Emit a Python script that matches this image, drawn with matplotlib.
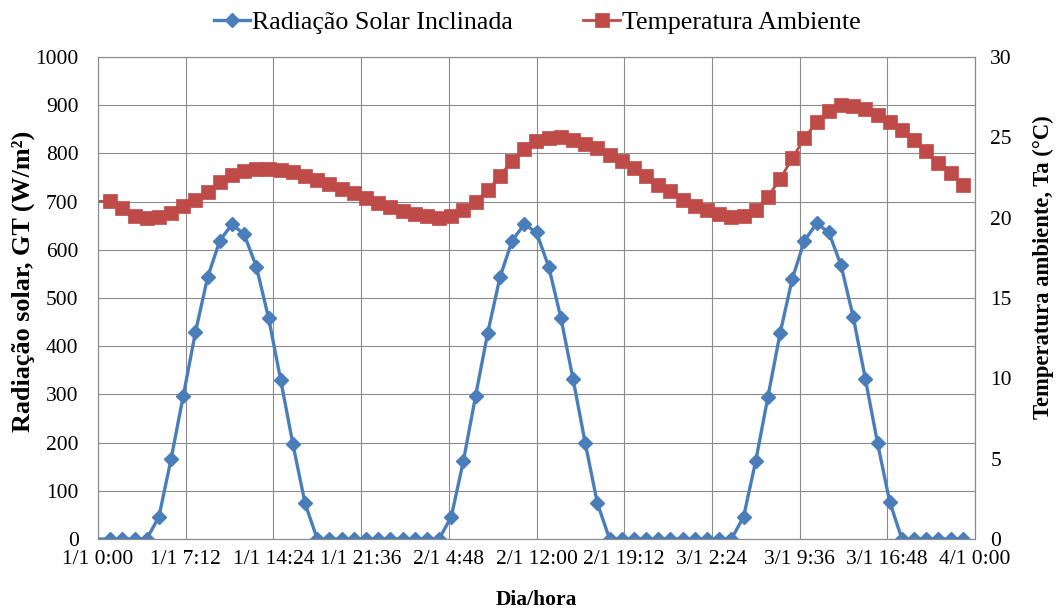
import matplotlib.pyplot as plt

# Hourly series, 1/1 0:00 to 3/1 23:00
horas = list(range(72))

radiacao = [0, 0, 0, 0, 0, 46, 166, 297, 429, 543, 619, 653,
            632, 565, 459, 330, 197, 74, 0, 0, 0, 0, 0, 0,
            0, 0, 0, 0, 0, 46, 162, 297, 428, 543, 619, 653,
            636, 565, 459, 332, 199, 74, 0, 0, 0, 0, 0, 0,
            0, 0, 0, 0, 0, 46, 162, 295, 427, 540, 619, 655,
            636, 568, 461, 332, 199, 77, 0, 0, 0, 0, 0, 0]

temperatura = [21.0, 21.05, 20.6, 20.1, 19.95, 20.05, 20.3, 20.7, 21.1, 21.6, 22.2, 22.65,
               22.9, 23.03, 23.05, 22.98, 22.82, 22.6, 22.35, 22.1, 21.8, 21.52, 21.22, 20.92,
               20.65, 20.4, 20.22, 20.08, 19.98, 20.1, 20.45, 21.0, 21.7, 22.6, 23.55, 24.3,
               24.75, 24.98, 25.0, 24.85, 24.6, 24.33, 23.92, 23.5, 23.08, 22.58, 22.06, 21.63,
               21.12, 20.7, 20.45, 20.22, 20.05, 20.08, 20.45, 21.3, 22.4, 23.7, 24.95, 25.95,
               26.67, 27.0, 26.95, 26.76, 26.42, 25.98, 25.47, 24.84, 24.12, 23.39, 22.77, 22.04]

xtick_pos = [0, 7.2, 14.4, 21.6, 28.8, 36, 43.2, 50.4, 57.6, 64.8, 72]
xtick_labels = ['1/1 0:00', '1/1 7:12', '1/1 14:24', '1/1 21:36', '2/1 4:48', '2/1 12:00',
                '2/1 19:12', '3/1 2:24', '3/1 9:36', '3/1 16:48', '4/1 0:00']

azul = '#4A7EBB'
vermelho = '#BE4B48'
grade = '#8C8C8C'

plt.rcParams['font.family'] = ['Liberation Serif', 'DejaVu Serif']

fig = plt.figure(figsize=(10.62, 6.10), dpi=100)
ax = fig.add_axes([98 / 1062, 71 / 610, 877 / 1062, 482 / 610])
ax2 = ax.twinx()

l1, = ax.plot(horas, radiacao, color=azul, linewidth=2.4, marker='D', markersize=7.5,
              markevery=range(1, len(horas)), label='Radiação Solar Inclinada')
l2, = ax2.plot(horas, temperatura, color=vermelho, linewidth=2.0, marker='s', markersize=10.5,
               markeredgewidth=0.5, markevery=range(1, len(horas)), label='Temperatura Ambiente')

ax.set_xlim(0, 72)
ax.set_ylim(0, 1000)
ax2.set_ylim(0, 30)
ax.set_yticks(range(0, 1001, 100))
ax2.set_yticks(range(0, 31, 5))
ax.set_xticks(xtick_pos)
ax.set_xticklabels(xtick_labels)

ax.grid(True, color=grade, linewidth=0.8)
ax.set_axisbelow(True)
for a in (ax, ax2):
    for s in a.spines.values():
        s.set_color(grade)
        s.set_linewidth(0.8)
    a.tick_params(length=0, labelsize=15.5)
ax.tick_params(axis='y', pad=14)
ax.tick_params(axis='x', pad=8)
ax2.tick_params(axis='y', pad=11)

ax.set_ylabel('Radiação solar, GT (W/m²)', fontsize=18.8, fontweight='bold')
ax.yaxis.set_label_coords(-0.072, 0.535)
ax2.set_ylabel('Temperatura ambiente, Ta (°C)', fontsize=16.3, fontweight='bold')
ax2.yaxis.set_label_coords(1.066, 0.564)
ax.set_xlabel('Dia/hora', fontsize=15.5, fontweight='bold')
ax.xaxis.set_label_coords(0.5, -0.105)

fig.legend(handles=[l1, l2], loc='upper center', bbox_to_anchor=(0.506, 1.02), ncol=2,
           frameon=False, fontsize=18.7, handlelength=1.4, handletextpad=0.1,
           columnspacing=2.7, numpoints=1)

fig.savefig('out.png', dpi=100)
